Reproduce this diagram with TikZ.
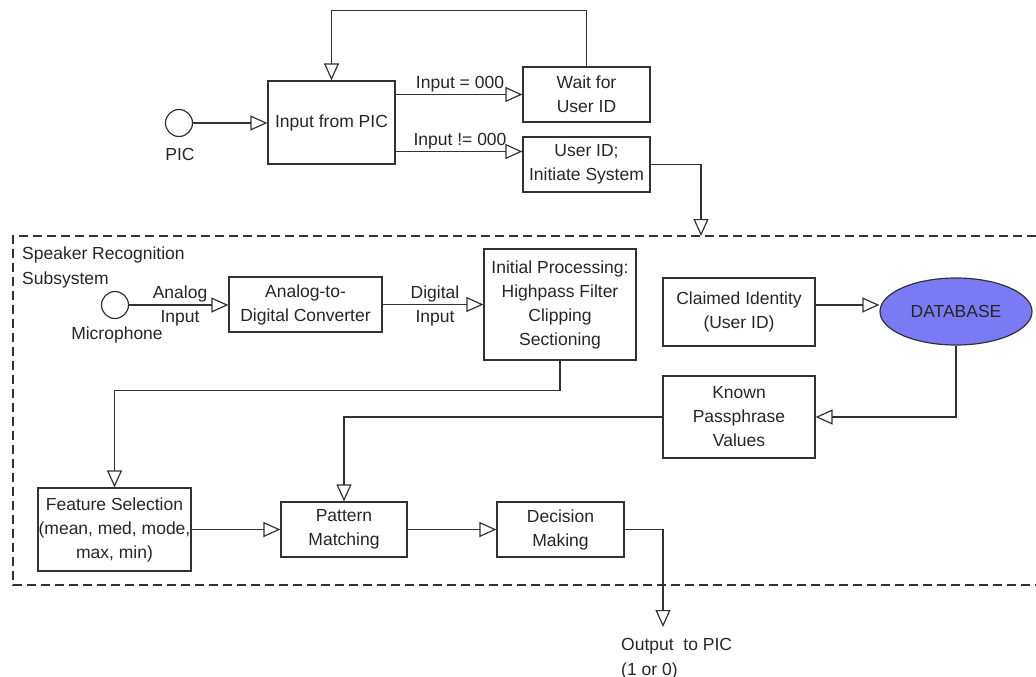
\documentclass[tikz,border=0pt]{standalone}
\usepackage{fontspec}
\setmainfont{Liberation Sans}
\usetikzlibrary{arrows.meta,shapes.geometric}
\definecolor{ln}{RGB}{50,50,50}
\definecolor{dbfill}{RGB}{122,122,245}
\begin{document}
\begin{tikzpicture}[x=1pt,y=-1pt,
  every node/.style={font=\fontsize{17.5}{24}\selectfont, text=black!85},
  blk/.style={draw=ln, line width=1.2pt, rectangle, inner sep=0pt, align=center},
  circ/.style={draw=ln, line width=1.2pt, circle, minimum size=27pt, inner sep=0pt},
  conn/.style={draw=ln, line width=1.2pt},
  arr/.style={conn, -{Triangle[open,length=17pt,width=15pt]}},
  lbl/.style={inner sep=0pt, align=center}]
\useasboundingbox (0,0) rectangle (1036,677);
\draw[ln, line width=1.2pt, dash pattern=on 9pt off 5pt] (1036,236) -- (13,236) -- (13,585) -- (1036,585);

\node[blk, minimum width=127pt, minimum height=83pt] (inpic) at (331.5,122.5) {Input from PIC};
\node[blk, minimum width=127pt, minimum height=55pt] (wait) at (586.5,94.5) {Wait for\\User ID};
\node[blk, minimum width=127pt, minimum height=55pt] (user) at (586.5,164.5) {User ID;\\Initiate System};
\node[circ] (pic) at (179,123) {};
\node[lbl] (piclbl) at (180,154) {PIC};
\node[lbl] (l1) at (460,84) {Input = 000};
\node[lbl] (l2) at (460,141) {Input != 000};
\node[lbl, anchor=base west, align=left, font=\fontsize{17.5}{25}\selectfont] (sub) at (22,284) {Speaker Recognition\\Subsystem};

\node[circ] (mic) at (115,305) {};
\node[lbl] (miclbl) at (117,335) {Microphone};
\node[blk, minimum width=153pt, minimum height=55pt] (adc) at (305.5,304.5) {Analog-to-\\Digital Converter};
\node[lbl] (al) at (180,306) {Analog\\Input};
\node[blk, minimum width=152pt, minimum height=111pt] (initp) at (560,304.5) {Initial Processing:\\Highpass Filter\\Clipping\\Sectioning};
\node[lbl] (dl) at (435,306) {Digital\\Input};
\node[blk, minimum width=152pt, minimum height=68pt] (claimed) at (739,312) {Claimed Identity\\(User ID)};
\node[draw=ln, line width=1.2pt, ellipse, fill=dbfill, minimum width=152pt, minimum height=67pt, inner sep=0pt] (db) at (956,311.5) {DATABASE};
\node[blk, minimum width=152pt, minimum height=82pt] (known) at (739,417) {Known\\Passphrase\\Values};
\node[blk, minimum width=153pt, minimum height=83pt] (feat) at (114.5,529.5) {Feature Selection\\(mean, med, mode,\\max, min)};
\node[blk, minimum width=126pt, minimum height=55pt] (patt) at (344,529.5) {Pattern\\Matching};
\node[blk, minimum width=127pt, minimum height=55pt] (dec) at (560.5,529.5) {Decision\\Making};
\coordinate (subtop) at (701,236);
\coordinate (outp) at (663,627);
\node[lbl, anchor=base west, align=left, font=\fontsize{17.5}{25}\selectfont] (outlbl) at (621,675) {Output\ \ to PIC\\(1 or 0)};

\draw[arr] (pic.east) -- (pic.east -| inpic.west);
\draw[arr] (inpic.east |- wait.west) -- (wait.west);
\draw[arr] ([yshift=13pt]user.west -| inpic.east) -- ([yshift=13pt]user.west);
\draw[arr] (wait.north) -- ++(0,-56) -| (inpic.north);
\draw[arr] (user.east) -| (subtop);
\draw[arr] (mic.east) -- (mic.east -| adc.west);
\draw[arr] (adc.east) -- (adc.east -| initp.west);
\draw[arr] ([yshift=7pt]claimed.east) -- ([yshift=7pt]claimed.east -| db.west);
\draw[arr] (db.south) |- (known.east);
\draw[arr] (known.west) -| (patt.north);
\draw[arr] (initp.south) -- ++(0,30) -| (feat.north);
\draw[arr] (feat.east) -- (patt.west);
\draw[arr] (patt.east) -- (dec.west);
\draw[arr] (dec.east) -| (outp);
\end{tikzpicture}
\end{document}
